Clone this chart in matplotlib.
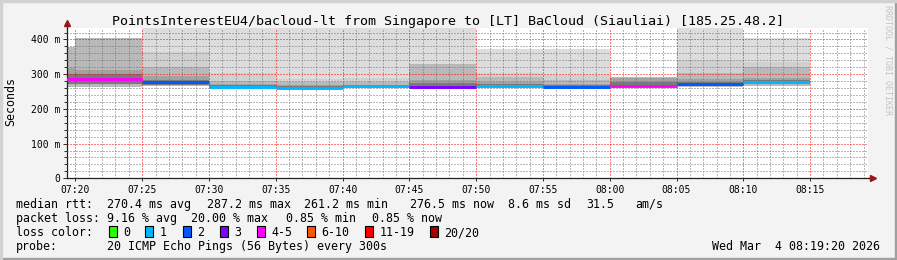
import matplotlib
matplotlib.use("Agg")
import matplotlib.pyplot as plt
import matplotlib.dates as mdates
from matplotlib.patches import Rectangle
from matplotlib.ticker import MultipleLocator, FuncFormatter
import numpy as np
import pandas as pd

nan = np.nan
day = "2026-03-04 "

# 5-minute steps (end time of each step), values in ms
seg_end = ["07:20", "07:25", "07:30", "07:35", "07:40", "07:45",
           "07:50", "07:55", "08:00", "08:05", "08:10", "08:15"]
median = [287, 287, 276, 264, 261, 266, 264, 266, 264, 267, 272, 277]
loss_idx = [4, 4, 2, 1, 1, 1, 3, 1, 2, 4, 2, 1]

# smoke bands, outermost (lightest) to innermost (darkest)
smoke_b1 = [nan, nan, 440, 440, 440, 440, 440, 373, 373, nan, 440, 403]
smoke_b2 = [nan, nan, 364, 302, 286, 289, nan, 304, 297, nan, 342, 335]
smoke_b3 = [379, 403, 321, 280, 276, 277, 330, 291, 282, 293, 303, 321]
smoke_b4 = [318, 312, 295, 272, 268, 270, 283, 278, 273, 288, 285, 290]
smoke_b5 = [300, 300, 283, 268, 265, 268, 274, 271, 268, 277, 276, 282]
smoke_lo_out = [262, 263, 266, 261, 258, 260, 260, 261, 260, 263, 264, 265]
smoke_lo_in = [272, 273, 270, 263, 260, 263, 262, 263, 262, 265, 268, 271]
band_colors = ["#dddddd", "#d0d0d0", "#b9b9b9", "#a2a2a2", "#7a7a7a"]

loss_labels = ["0", "1", "2", "3", "4-5", "6-10", "11-19", "20/20"]
loss_colors = ["#26ff00", "#00b8ff", "#0059ff", "#7e00ff",
               "#ff00ff", "#ff5500", "#ff0000", "#a10000"]

W, H = 897, 260
mono = "DejaVu Sans Mono"
plt.rcParams["font.family"] = mono

fig = plt.figure(figsize=(W / 100, H / 100), dpi=100, facecolor="#f3f3f3")


def fx(x):
    return x / W


def fy(y):
    return 1 - y / H


# frame shading
fig.patches.append(Rectangle((0, 0), 1, 2 / H, transform=fig.transFigure, color="#a0a0a0", zorder=0))
fig.patches.append(Rectangle((1 - 2 / W, 0), 2 / W, 1, transform=fig.transFigure, color="#a0a0a0", zorder=0))
fig.patches.append(Rectangle((0, 1 - 2 / H), 1, 2 / H, transform=fig.transFigure, color="#d2d2d2", zorder=0))
fig.patches.append(Rectangle((0, 0), 2 / W, 1, transform=fig.transFigure, color="#d2d2d2", zorder=0))

left, right, top, bottom = 66.5, 868, 28, 178.3
ax = fig.add_axes([fx(left), fy(bottom), fx(right - left), (bottom - top) / H])
ax.set_facecolor("white")

ends = [mdates.date2num(pd.Timestamp(day + s)) for s in seg_end]
step = 5 / (24 * 60)

bands = [smoke_b1, smoke_b2, smoke_b3, smoke_b4, smoke_b5]
lows = [smoke_lo_out, smoke_lo_out, smoke_lo_out, smoke_lo_in, smoke_lo_in]
for i, e in enumerate(ends):
    xs = [e - step, e]
    for b, lo, c in zip(bands, lows, band_colors):
        if not np.isnan(b[i]):
            ax.fill_between(xs, lo[i], b[i], color=c, linewidth=0, zorder=1)
    ax.plot(xs, [median[i], median[i]], color=loss_colors[loss_idx[i]],
            linewidth=2.1, solid_capstyle="butt", zorder=3)

x0 = mdates.date2num(pd.Timestamp(day + "07:19:20"))
x1 = mdates.date2num(pd.Timestamp(day + "08:19:20"))
ax.set_xlim(x0, x1)
ax.set_ylim(0, 433)

ax.xaxis.set_major_locator(mdates.MinuteLocator(byminute=range(0, 60, 5)))
ax.xaxis.set_minor_locator(mdates.MinuteLocator())
ax.xaxis.set_major_formatter(mdates.DateFormatter("%H:%M"))
ax.yaxis.set_major_locator(MultipleLocator(100))
ax.yaxis.set_minor_locator(MultipleLocator(20))
ax.yaxis.set_major_formatter(FuncFormatter(lambda v, p: "0" if v == 0 else f"{int(v)} m"))

ax.set_axisbelow(False)
ax.grid(which="minor", color=(0.45, 0.45, 0.45, 0.3), linestyle=(0, (1, 2)), linewidth=0.72)
ax.grid(which="major", color=(1, 0, 0, 0.3), linestyle=(0, (1, 2)), linewidth=0.72)

ax.tick_params(axis="both", which="both", direction="out", colors="#303030",
               labelcolor="black", labelsize=7, width=0.72)
ax.tick_params(axis="x", which="major", length=2, pad=2.5)
ax.tick_params(axis="x", which="minor", length=0)
ax.tick_params(axis="y", which="major", length=3, pad=1.6)
ax.tick_params(axis="y", which="minor", length=2)

for s in ["top", "right"]:
    ax.spines[s].set_visible(False)
for s in ["left", "bottom"]:
    ax.spines[s].set_color("#202020")
    ax.spines[s].set_linewidth(0.9)

# axis arrows
ax.plot([1.0, 1.006], [0, 0], color="#202020", lw=0.9, transform=ax.transAxes, clip_on=False)
ax.plot(1.006, 0, marker=">", color="#9a1515", markersize=4, transform=ax.transAxes, clip_on=False)
ax.plot([0, 0], [1.0, 1.03], color="#202020", lw=0.9, transform=ax.transAxes, clip_on=False)
ax.plot(0, 1.03, marker="^", color="#9a1515", markersize=4, transform=ax.transAxes, clip_on=False)

fig.text(fx(448), fy(24.5), "PointsInterestEU4/bacloud-lt from Singapore to [LT] BaCloud (Siauliai) [185.25.48.2]",
         ha="center", va="baseline", fontsize=9.6)
fig.text(fx(11), fy(102), "Seconds", rotation=90, ha="center", va="center", fontsize=8.4)
fig.text(fx(888), fy(60), "RRDTOOL / TOBI OETIKER", rotation=270, ha="center", va="center",
         fontsize=6, color="#c4c4c4")

fs = 8.4
rows = [207.8, 222.0, 236.2, 250.4]
line1 = [(16, "median rtt:"), (107, "270.4 ms avg"), (207, "287.2 ms max"), (304, "261.2 ms min"),
         (410, "276.5 ms now"), (508, "8.6 ms sd"), (586, "31.5"), (635, "am/s")]
line2 = [(16, "packet loss:"), (107, "9.16 % avg"), (191, "20.00 % max"), (286, "0.85 % min"),
         (372, "0.85 % now")]
for x, t in line1:
    fig.text(fx(x), fy(rows[0]), t, ha="left", va="baseline", fontsize=fs)
for x, t in line2:
    fig.text(fx(x), fy(rows[1]), t, ha="left", va="baseline", fontsize=fs)

fig.text(fx(16), fy(rows[2]), "loss color:", ha="left", va="baseline", fontsize=fs)
box_x = [109, 145, 183, 220, 257, 307, 365, 430]
for bx, lab, col in zip(box_x, loss_labels, loss_colors):
    fig.patches.append(Rectangle((fx(bx), fy(236.5)), 7.5 / W, 10.5 / H, transform=fig.transFigure,
                                 facecolor=col, edgecolor="black", linewidth=0.8))
    fig.text(fx(bx + 14.5), fy(rows[2]), lab, ha="left", va="baseline", fontsize=fs)

fig.text(fx(16), fy(rows[3]), "probe:", ha="left", va="baseline", fontsize=fs)
fig.text(fx(107), fy(rows[3]), "20 ICMP Echo Pings (56 Bytes) every 300s", ha="left", va="baseline", fontsize=fs)
fig.text(fx(880), fy(rows[3]), "Wed Mar  4 08:19:20 2026", ha="right", va="baseline", fontsize=fs)

fig.savefig("out.png", dpi=100, facecolor=fig.get_facecolor())
